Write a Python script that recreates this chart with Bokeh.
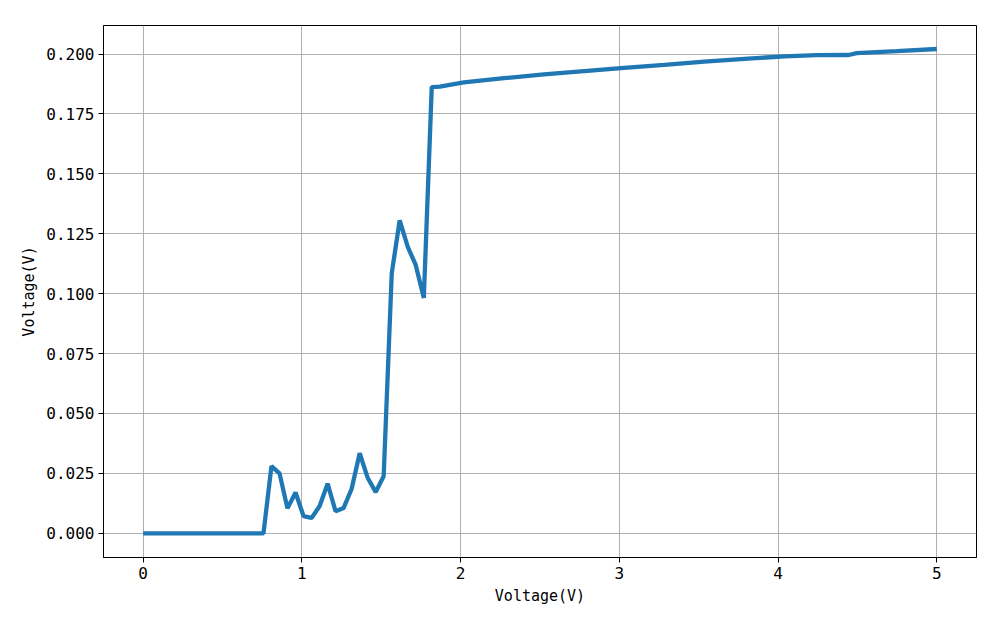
from bokeh.plotting import figure
from bokeh.models import Range1d, FixedTicker, NumeralTickFormatter, ColumnDataSource
from bokeh.embed import file_html
from bokeh.resources import INLINE

# Data
x_vals = [0.0, 0.758, 0.808, 0.859, 0.909, 0.960, 1.010, 1.061, 1.111, 1.162,
          1.212, 1.263, 1.313, 1.364, 1.414, 1.465, 1.515, 1.566, 1.616, 1.667,
          1.717, 1.768, 1.818, 1.869, 2.020, 2.273, 2.525, 2.778, 3.030, 3.283,
          3.535, 3.788, 4.040, 4.242, 4.444, 4.495, 4.747, 5.0]
y_vals = [0.0, 0.0, 0.0280, 0.0250, 0.0104, 0.0170, 0.0072, 0.0064, 0.0113, 0.0207,
          0.0092, 0.0106, 0.0185, 0.0334, 0.0232, 0.0172, 0.0238, 0.1085, 0.1306, 0.1195,
          0.1120, 0.0982, 0.1862, 0.1864, 0.1882, 0.1899, 0.1915, 0.1929, 0.1942, 0.1955,
          0.1968, 0.1980, 0.1990, 0.1995, 0.1996, 0.2004, 0.2012, 0.2021]
x_ticks = [0, 1, 2, 3, 4, 5]
y_ticks = [0.0, 0.025, 0.05, 0.075, 0.1, 0.125, 0.15, 0.175, 0.2]
x_label = "Voltage(V)"
y_label = "Voltage(V)"

FONT = "DejaVu Sans Mono"

src = ColumnDataSource(dict(x=x_vals, y=y_vals))

p = figure(width=992, height=617, output_backend="svg", toolbar_location=None,
           x_range=Range1d(-0.25, 5.25), y_range=Range1d(-0.0101, 0.2119),
           min_border_left=103, min_border_right=16, min_border_top=25, min_border_bottom=60)

p.line("x", "y", source=src, line_color="#1f77b4", line_width=4.3)

p.outline_line_color = "black"
p.outline_line_width = 1
p.background_fill_color = "white"
p.border_fill_color = "white"

p.xaxis.ticker = FixedTicker(ticks=x_ticks)
p.yaxis.ticker = FixedTicker(ticks=y_ticks)
p.yaxis.formatter = NumeralTickFormatter(format="0.000")
p.xaxis.axis_label = x_label
p.yaxis.axis_label = y_label

for ax in [p.xaxis, p.yaxis]:
    ax.major_tick_out = 5
    ax.major_tick_in = 0
    ax.minor_tick_out = 0
    ax.minor_tick_in = 0
    ax.axis_line_color = "black"
    ax.major_tick_line_color = "black"
    ax.major_label_text_font = FONT
    ax.major_label_text_font_size = "16px"
    ax.major_label_text_color = "black"
    ax.axis_label_text_font = FONT
    ax.axis_label_text_font_size = "15px"
    ax.axis_label_text_font_style = "normal"
    ax.axis_label_text_color = "black"
    ax.major_label_standoff = 4
    ax.axis_label_standoff = 5

p.grid.grid_line_color = "#b0b0b0"
p.grid.grid_line_width = 1

open("out.html", "w").write(file_html(p, INLINE))
